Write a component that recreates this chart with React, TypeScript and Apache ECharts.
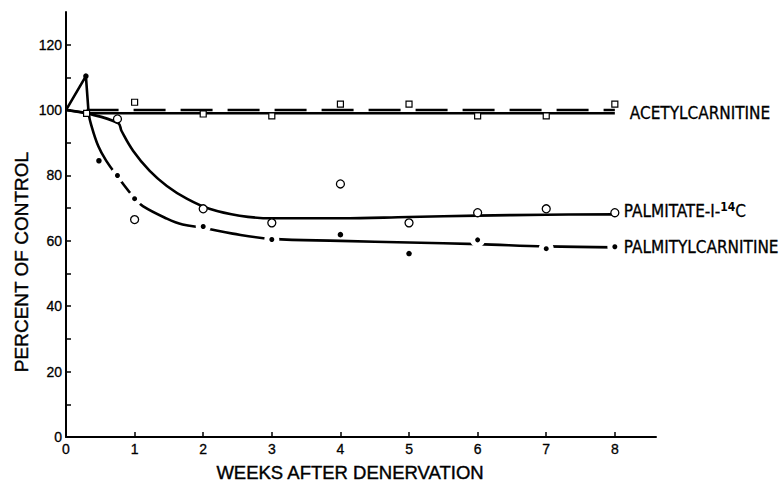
import React, { useEffect, useRef } from "react";
import * as echarts from "echarts";

// Axis ticks
const weekTicks = [0, 1, 2, 3, 4, 5, 6, 7, 8];
const percentLabels = [0, 20, 40, 60, 80, 100, 120];
const percentTicks = [0, 10, 20, 30, 40, 50, 60, 70, 80, 90, 100, 110, 120];

// Acetylcarnitine
const acetylDashedCurve = [[0.3, 100], [8, 100]];
const acetylSolidCurve = [[0, 100], [0.3, 99], [8, 99]];
const acetylPoints = [[0.3, 99], [1, 102.4], [2, 98.8], [3, 98.2], [4, 101.8], [5, 101.8], [6, 98.2], [7, 98.2], [8, 101.8]];

// Palmitate-1-14C
const palmitateCurve = [
  [0, 100], [0.3, 99], [0.76, 96], [0.81, 93.6], [0.98, 87.5], [1.22, 81.4], [1.47, 76.8],
  [1.76, 72.9], [2.09, 69.8], [2.53, 67.7], [3, 66.9], [4, 66.9], [5, 67.3], [6, 67.7], [7, 68], [8, 68.1],
];
const palmitatePoints = [[0.75, 97.3], [1, 66.5], [2, 69.8], [3, 65.5], [4, 77.4], [5, 65.5], [6, 68.6], [7, 69.8], [8, 68.6]];

// Palmitylcarnitine
const palmitylSpike = [[0, 100], [0.29, 110.4], [0.33, 99]];
const palmitylCurve = [
  [0.33, 99], [0.36, 96], [0.47, 89], [0.59, 84.4], [0.74, 80], [1, 73], [1.12, 70.6], [1.47, 66.8],
  [1.7, 65], [2, 64], [2.43, 62.2], [3, 60.6], [4, 60], [5, 59.5], [6, 59], [7, 58.3], [8, 58],
];
const palmitylPoints = [[0.29, 110.4], [0.48, 84.5], [0.75, 80], [1, 72.9], [2, 64.4], [3, 60.4], [4, 61.9], [5, 56.1], [6, 60.3], [7, 57.6], [8, 58.2]];

const INK = "#000";
const FONT = "Liberation Sans";
const COND = "'DejaVu Sans Condensed', 'Liberation Sans', sans-serif";

function curveAt(curve: number[][], x: number): number | null {
  for (let i = 0; i < curve.length - 1; i++) {
    const [x0, y0] = curve[i];
    const [x1, y1] = curve[i + 1];
    if (x >= x0 && x <= x1) return y0 + ((y1 - y0) * (x - x0)) / (x1 - x0);
  }
  return null;
}

export default function App() {
  const ref = useRef<HTMLDivElement>(null);
  useEffect(() => {
    if (!ref.current) return;
    const chart = echarts.init(ref.current, undefined, { renderer: "svg" });
    const lineBase = {
      type: "line",
      symbol: "none",
      showSymbol: false,
      silent: true,
      emphasis: { disabled: true },
      z: 2,
    };
    const labelStyle = { fontFamily: COND, fontSize: 17, color: INK, textBorderColor: INK, textBorderWidth: 0.3 };
    const palmitylData = palmitylPoints.map(([x, y]) => {
      const c = curveAt(palmitylCurve, x);
      if (c !== null && Math.abs(c - y) < 1.5) {
        return { value: [x, y], symbolSize: 10, itemStyle: { borderColor: "#fff", borderWidth: 5 } };
      }
      return { value: [x, y], symbolSize: 5.5, itemStyle: { borderWidth: 0 } };
    });
    const option: any = {
      animation: false,
      grid: { left: 66, right: 124, top: 12, bottom: 45 },
      xAxis: {
        type: "value",
        min: 0,
        max: 8.6,
        axisLine: { show: true, onZero: false, lineStyle: { color: INK, width: 2 } },
        axisTick: { show: true, inside: true, length: 5, customValues: weekTicks, lineStyle: { color: INK, width: 1.5 } },
        axisLabel: { customValues: weekTicks, margin: 5, fontSize: 14, color: INK, fontFamily: FONT, textBorderColor: INK, textBorderWidth: 0.3 },
        splitLine: { show: false },
      },
      yAxis: {
        type: "value",
        min: 0,
        max: 130,
        axisLine: { show: true, onZero: false, lineStyle: { color: INK, width: 2 } },
        axisTick: { show: true, inside: true, length: 5, customValues: percentTicks, lineStyle: { color: INK, width: 1.5 } },
        axisLabel: { customValues: percentLabels, margin: 4, fontSize: 14, color: INK, fontFamily: FONT, textBorderColor: INK, textBorderWidth: 0.3 },
        splitLine: { show: false },
      },
      graphic: [
        {
          type: "text",
          x: 21,
          y: 262,
          rotation: Math.PI / 2,
          style: { text: "PERCENT OF CONTROL", fontSize: 19, fontFamily: FONT, fill: INK, stroke: INK, lineWidth: 0.4, align: "center", verticalAlign: "middle" },
        },
        {
          type: "text",
          x: 350,
          y: 472,
          style: { text: "WEEKS AFTER DENERVATION", fontSize: 18.5, fontFamily: FONT, fill: INK, stroke: INK, lineWidth: 0.4, align: "center", verticalAlign: "middle" },
        },
      ],
      series: [
        { ...lineBase, data: acetylDashedCurve, lineStyle: { color: INK, width: 2.5, type: [32, 15] } },
        {
          ...lineBase,
          data: acetylSolidCurve,
          lineStyle: { color: INK, width: 2.5 },
          endLabel: { show: true, formatter: "ACETYLCARNITINE", distance: 15, ...labelStyle },
        },
        {
          ...lineBase,
          data: palmitateCurve,
          smooth: 0.4,
          lineStyle: { color: INK, width: 2.6 },
          endLabel: {
            show: true,
            formatter: "{a|PALMITATE-I-}{s|14}{a|C}",
            distance: 9,
            offset: [0, -3],
            rich: {
              a: { ...labelStyle },
              s: { fontFamily: COND, fontSize: 12, color: INK, fontWeight: "bold", verticalAlign: "top", padding: [0, 0, 8, 0] },
            },
          },
        },
        { ...lineBase, data: palmitylSpike, lineStyle: { color: INK, width: 2.6 } },
        {
          ...lineBase,
          data: palmitylCurve,
          smooth: 0.4,
          lineStyle: { color: INK, width: 2.6 },
          endLabel: { show: true, formatter: "PALMITYLCARNITINE", distance: 9, ...labelStyle },
        },
        {
          type: "scatter",
          silent: true,
          z: 3,
          data: acetylPoints,
          symbol: "rect",
          symbolSize: 6,
          itemStyle: { color: "#fff", borderColor: INK, borderWidth: 1.2, opacity: 1 },
        },
        {
          type: "scatter",
          silent: true,
          z: 3,
          data: palmitatePoints,
          symbol: "circle",
          symbolSize: 8,
          itemStyle: { color: "#fff", borderColor: INK, borderWidth: 1.3, opacity: 1 },
        },
        {
          type: "scatter",
          silent: true,
          z: 4,
          data: palmitylData,
          symbol: "circle",
          itemStyle: { color: INK, opacity: 1 },
        },
      ],
    };
    chart.setOption(option);
    return () => chart.dispose();
  }, []);
  return <div ref={ref} style={{ width: 780, height: 482, position: "absolute", left: 0, top: 0 }} />;
}
